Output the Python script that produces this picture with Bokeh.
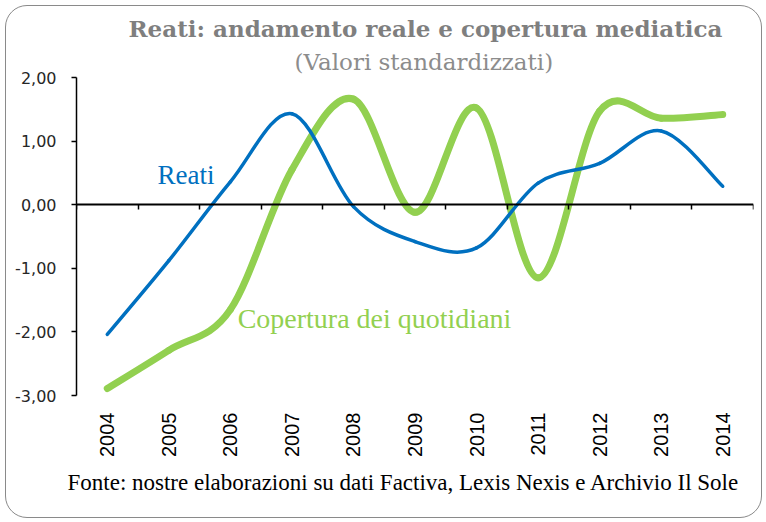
import math
from bokeh.plotting import figure
from bokeh.models import Range1d, LinearAxis, FixedTicker, Label, Title, InlineStyleSheet
from bokeh.embed import file_html
from bokeh.resources import INLINE

years = ["2004", "2005", "2006", "2007", "2008", "2009", "2010", "2011", "2012", "2013", "2014"]
reati = [-2.04, -0.88, 0.36, 1.43, -0.03, -0.58, -0.68, 0.34, 0.65, 1.16, 0.29]
copertura = [-2.89, -2.29, -1.65, 0.55, 1.66, -0.12, 1.52, -1.15, 1.47, 1.36, 1.42]
y_ticks = [-3, -2, -1, 0, 1, 2]
y_tick_labels = ["-3,00", "-2,00", "-1,00", "0,00", "1,00", "2,00"]

title_text = "Reati: andamento reale e copertura mediatica"
subtitle_text = "(Valori standardizzati)"
source_text = "Fonte: nostre elaborazioni su dati Factiva, Lexis Nexis e Archivio Il Sole"

BLUE = "#0070C0"
GREEN = "#92D050"
SERIF = "Liberation Serif"
HEAD = "DejaVu Serif"

n = len(years)
xs = list(range(n))

frame_css = InlineStyleSheet(css="""
:host { position: relative; }
:host::after {
  content: "";
  position: absolute;
  left: 5px; top: 5px; right: 4px; bottom: 4px;
  border: 1.5px solid #8a8a8a;
  border-radius: 22px;
  pointer-events: none;
  z-index: 1000;
}
""")

p = figure(width=766, height=522, output_backend="svg", toolbar_location=None,
           x_range=Range1d(-0.5, n - 0.5), y_range=Range1d(min(y_ticks), max(y_ticks)),
           min_border_left=76, min_border_right=13, min_border_top=77, min_border_bottom=127,
           x_axis_location=None, y_axis_location=None)
p.stylesheets = [frame_css]
p.grid.visible = False
p.outline_line_color = None
p.background_fill_color = "white"
p.border_fill_color = "white"

# left axis
yax = LinearAxis(ticker=FixedTicker(ticks=y_ticks))
yax.major_label_overrides = {t: l for t, l in zip(y_ticks, y_tick_labels)}
yax.axis_line_color = "black"
yax.axis_line_width = 1.5
yax.major_tick_line_color = "black"
yax.major_tick_line_width = 1.5
yax.major_tick_out = 5
yax.major_tick_in = 0
yax.minor_tick_line_color = None
yax.major_label_standoff = 15
yax.major_label_text_font = "DejaVu Sans"
yax.major_label_text_font_size = "16px"
yax.major_label_text_color = "#262626"
p.add_layout(yax, "left")

# category labels
xax = LinearAxis(ticker=FixedTicker(ticks=xs))
xax.major_label_overrides = {i: y for i, y in zip(xs, years)}
xax.axis_line_color = None
xax.major_tick_line_color = None
xax.minor_tick_line_color = None
xax.major_tick_out = 0
xax.major_tick_in = 0
xax.major_label_orientation = math.pi / 2
xax.major_label_standoff = 17
xax.major_label_text_font = "Liberation Sans"
xax.major_label_text_font_size = "20px"
xax.major_label_text_color = "black"
p.add_layout(xax, "below")

# zero line axis with ticks between categories
zax = LinearAxis(ticker=FixedTicker(ticks=[i + 0.5 for i in range(-1, n)]), fixed_location=0)
zax.major_label_overrides = {i + 0.5: "" for i in range(-1, n)}
zax.axis_line_color = "black"
zax.axis_line_width = 2
zax.major_tick_line_color = "black"
zax.major_tick_line_width = 1.5
zax.major_tick_out = 5
zax.major_tick_in = 0
zax.minor_tick_line_color = None
zax.major_label_text_font_size = "0px"
p.add_layout(zax, "below")

p.add_layout(Title(text=source_text, text_font=SERIF, text_font_style="normal",
                   text_font_size="23px", text_color="black", align="left",
                   offset=-9, standoff=17), "below")

p.add_layout(Title(text=subtitle_text, text_font=HEAD, text_font_style="normal",
                   text_font_size="23px", text_color="#8c8c8c", align="left",
                   offset=218, standoff=6), "above")
p.add_layout(Title(text=title_text, text_font=HEAD, text_font_style="bold",
                   text_font_size="23px", text_color="#7f7f7f", align="left",
                   offset=52, standoff=3), "above")


def smooth(vals):
    x0, y0, x1, y1, cx0, cy0, cx1, cy1 = [], [], [], [], [], [], [], []
    for i in range(len(vals) - 1):
        im1 = max(i - 1, 0)
        ip2 = min(i + 2, len(vals) - 1)
        x0.append(xs[i]); y0.append(vals[i])
        x1.append(xs[i + 1]); y1.append(vals[i + 1])
        cx0.append(xs[i] + (xs[i + 1] - xs[im1]) / 6.0)
        cy0.append(vals[i] + (vals[i + 1] - vals[im1]) / 6.0)
        cx1.append(xs[i + 1] - (xs[ip2] - xs[i]) / 6.0)
        cy1.append(vals[i + 1] - (vals[ip2] - vals[i]) / 6.0)
    return dict(x0=x0, y0=y0, x1=x1, y1=y1, cx0=cx0, cy0=cy0, cx1=cx1, cy1=cy1)


p.bezier(source=smooth(copertura), x0="x0", y0="y0", x1="x1", y1="y1",
         cx0="cx0", cy0="cy0", cx1="cx1", cy1="cy1",
         line_color=GREEN, line_width=7, line_cap="round")
p.bezier(source=smooth(reati), x0="x0", y0="y0", x1="x1", y1="y1",
         cx0="cx0", cy0="cy0", cx1="cx1", cy1="cy1",
         line_color=BLUE, line_width=3.5, line_cap="round")

p.add_layout(Label(x=0.817, y=0.46, text="Reati", text_font=SERIF,
                   text_font_size="27px", text_color=BLUE, text_baseline="alphabetic"))
p.add_layout(Label(x=2.118, y=-1.79, text="Copertura dei quotidiani", text_font=SERIF,
                   text_font_size="28px", text_color=GREEN, text_baseline="alphabetic"))

open("out.html", "w").write(file_html(p, INLINE))
